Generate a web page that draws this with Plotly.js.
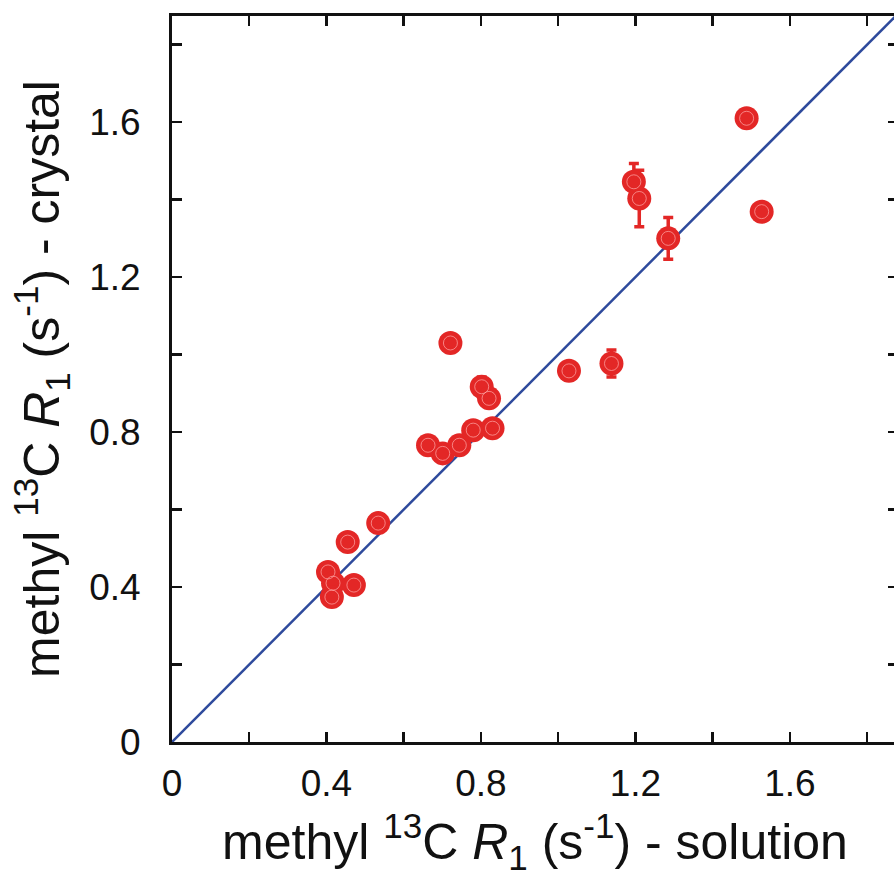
<!DOCTYPE html>
<html>
<head>
<meta charset="utf-8">
<script src="https://cdn.plot.ly/plotly-3.0.1.min.js"></script>
<style>html,body{margin:0;padding:0;overflow:hidden;background:#fff;}#chart{width:898px;height:877px;}</style>
</head>
<body>
<div id="chart"></div>
<script>
// R1 solution (x) vs crystal (y), s^-1
const solutionR1 = [0.404, 0.417, 0.414, 0.471, 0.455, 0.534, 0.663, 0.701, 0.744, 0.780, 0.830, 0.721, 0.802, 0.821, 1.028, 1.138, 1.196, 1.210, 1.285, 1.488, 1.527];
const crystalR1  = [0.439, 0.410, 0.374, 0.405, 0.516, 0.565, 0.766, 0.745, 0.766, 0.805, 0.810, 1.030, 0.917, 0.887, 0.958, 0.977, 1.446, 1.403, 1.300, 1.610, 1.369];
const crystalErr = [0.010, 0.010, 0.010, 0.010, 0.010, 0.010, 0.010, 0.010, 0.010, 0.010, 0.010, 0.010, 0.025, 0.015, 0.010, 0.035, 0.047, 0.073, 0.054, 0.010, 0.010];
const diagX = [0, 2];
const diagY = [0, 2];
const tickVals = [0, 0.2, 0.4, 0.6, 0.8, 1.0, 1.2, 1.4, 1.6, 1.8];
const tickText = ['0', '', '0.4', '', '0.8', '', '1.2', '', '1.6', ''];

const red = '#e32726';
const blue = '#2e4a9c';

const traces = [
  {x: diagX, y: diagY, mode: 'lines', line: {color: blue, width: 2.5}, hoverinfo: 'skip', cliponaxis: true},
  {x: solutionR1, y: crystalR1, mode: 'markers', type: 'scatter',
   marker: {color: red, size: 24, line: {width: 0}},
   error_y: {type: 'data', array: crystalErr, visible: true, color: red, thickness: 3.5, width: 5}},
  {x: solutionR1, y: crystalR1, mode: 'markers', type: 'scatter', hoverinfo: 'skip',
   marker: {symbol: 'circle-open', color: 'rgba(255,170,170,0.7)', size: 14, line: {width: 1, color: 'rgba(255,170,170,0.7)'}}}
];

const axisCommon = {
  showgrid: false, zeroline: false, showline: true, linecolor: '#111', linewidth: 3,
  mirror: 'ticks', ticks: 'inside', ticklen: 10, tickwidth: 2.5, tickcolor: '#111',
  tickmode: 'array', tickvals: tickVals, ticktext: tickText,
  tickfont: {family: 'Liberation Sans, Arial, sans-serif', size: 37, color: '#111'}
};

const layout = {
  width: 898, height: 877,
  margin: {l: 172, r: 0, t: 16, b: 135},
  paper_bgcolor: '#fff', plot_bgcolor: '#fff',
  showlegend: false,
  font: {family: 'Liberation Sans, Arial, sans-serif', color: '#111'},
  xaxis: Object.assign({}, axisCommon, {
    range: [0, 1.880],
    ticklabelstandoff: 7,
    title: {text: 'methyl <sup>13</sup>C <i>R</i><sub>1</sub> (s<sup>-1</sup>) - solution',
            font: {size: 50, family: 'Liberation Sans, Arial, sans-serif', color: '#111'}, standoff: 24}
  }),
  yaxis: Object.assign({}, axisCommon, {
    range: [0, 1.874],
    ticklabelstandoff: 21,
    title: {text: 'methyl <sup>13</sup>C <i>R</i><sub>1</sub> (s<sup>-1</sup>) - crystal',
            font: {size: 50, family: 'Liberation Sans, Arial, sans-serif', color: '#111'}, standoff: 14}
  })
};

Plotly.newPlot('chart', traces, layout, {displayModeBar: false, staticPlot: true});
</script>
</body>
</html>
